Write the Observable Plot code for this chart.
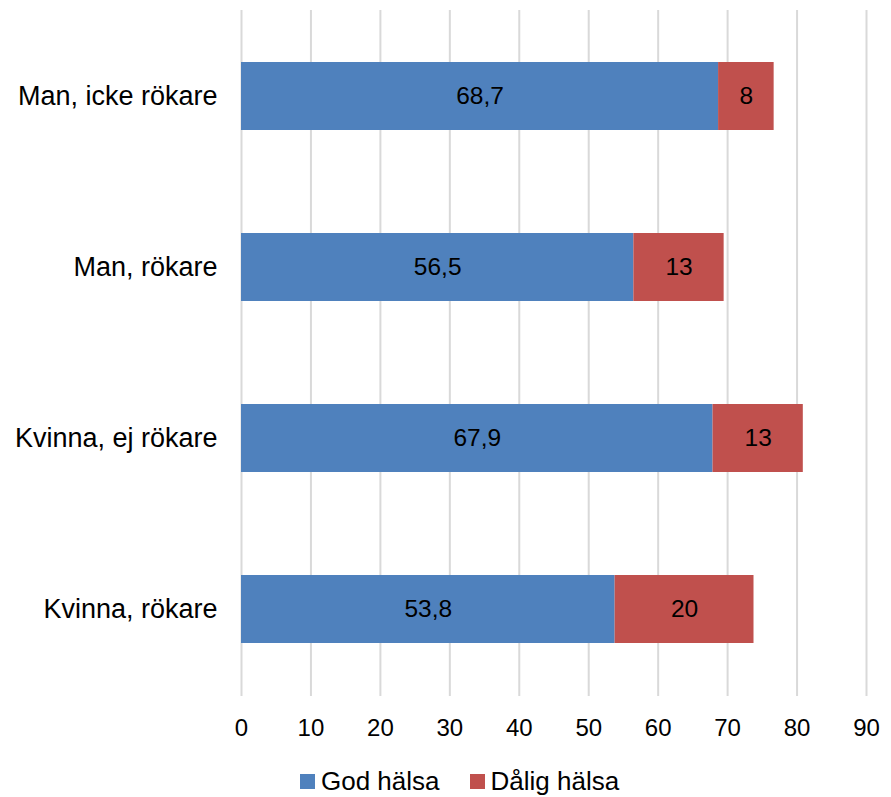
<!DOCTYPE html>
<html>
<head>
<meta charset="utf-8">
<script src="https://cdn.jsdelivr.net/npm/d3@7"></script>
<script src="https://cdn.jsdelivr.net/npm/@observablehq/plot@0.6"></script>
<style>
  html, body { margin: 0; padding: 0; background: #fff; }
  body { width: 891px; height: 797px; overflow: hidden; font-family: "Liberation Sans", Arial, sans-serif; }
  #legend { height: 37px; box-sizing: border-box; padding-top: 6px; display: flex; align-items: center; padding-left: 300px; font-size: 26px; color: #000; }
  .sw { display: inline-block; width: 15px; height: 15px; margin-right: 6px; }
  .item { display: flex; align-items: center; margin-right: 30px; }
</style>
</head>
<body>
<div id="chart"></div>
<div id="legend"></div>
<script>
const categories = ["Man, icke rökare", "Man, rökare", "Kvinna, ej rökare", "Kvinna, rökare"];
const series = ["God hälsa", "Dålig hälsa"];
const godHalsa = [68.7, 56.5, 67.9, 53.8];
const daligHalsa = [8, 13, 13, 20];
const colors = ["#4F81BD", "#C0504D"];
const xTicks = [0, 10, 20, 30, 40, 50, 60, 70, 80, 90];

const data = [];
categories.forEach((c, i) => {
  data.push({cat: c, series: series[0], value: godHalsa[i]});
  data.push({cat: c, series: series[1], value: daligHalsa[i]});
});

const fmt = v => String(v).replace(".", ",");

const chart = Plot.plot({
  width: 891,
  height: 760,
  marginLeft: 241,
  marginRight: 25,
  marginTop: 10,
  marginBottom: 64,
  style: {fontFamily: "'Liberation Sans', Arial, sans-serif", fontSize: "24px", color: "#000", background: "#fff"},
  x: {domain: [0, 90], ticks: xTicks, label: null},
  y: {domain: categories, label: null, paddingInner: 0.6, paddingOuter: 0.3},
  color: {domain: series, range: colors},
  marks: [
    Plot.ruleX(xTicks, {stroke: "#D9D9D9", strokeWidth: 2}),
    Plot.barX(data, Plot.stackX({x: "value", y: "cat", fill: "series"})),
    Plot.text(data, Plot.stackX({x: "value", y: "cat", text: d => fmt(d.value), fill: "#000", fontSize: 24.5})),
    Plot.axisX({ticks: xTicks, tickSize: 0, tickPadding: 22, fontSize: 24, label: null, tickFormat: d => String(d)}),
    Plot.axisY({tickSize: 0, tickPadding: 24, fontSize: 27, label: null})
  ]
});
document.getElementById("chart").appendChild(chart);

const legend = document.getElementById("legend");
series.forEach((s, i) => {
  const item = document.createElement("div");
  item.className = "item";
  const sw = document.createElement("span");
  sw.className = "sw";
  sw.style.background = colors[i];
  item.appendChild(sw);
  item.appendChild(document.createTextNode(s));
  legend.appendChild(item);
});
</script>
</body>
</html>
